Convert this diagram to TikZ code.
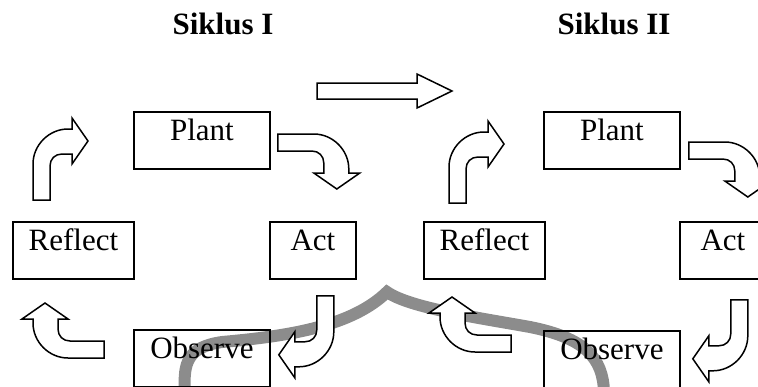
\documentclass[tikz,border=0pt]{standalone}
\usepackage{fontspec}
\setmainfont{Liberation Serif}
\usetikzlibrary{calc}

% bent block arrow, tail at the origin, heading +x and turning to +y
\newcommand{\bentarrow}[1]{%
  \begin{scope}[#1]
    \draw[arrowline] (0,0) -- (36,0) .. controls (55,0) and (71,16) .. (71,35)
      -- (71,39) -- (82,39) -- (59,55) -- (36,39) -- (46,39) -- (46,29)
      .. controls (46,22) and (41,17) .. (34,17) -- (0,17) -- cycle;
  \end{scope}}

\begin{document}
\begin{tikzpicture}[x=0.5pt, y=-0.5pt,
    box/.style={draw, line width=0.9pt, inner sep=0pt, text height=14.5pt,
      text depth=14pt, anchor=north west, font=\fontsize{15.5}{18}\selectfont},
    arrowline/.style={draw, fill=white, line width=0.75pt, line join=miter},
    title/.style={anchor=base, font=\fontsize{15.5}{18}\selectfont\bfseries},
    band/.style={black!45, line width=6pt}]
    \clip (0,0) rectangle (758,386);
    % grey band of the scanned page
    \draw[band] (185,392) .. controls (183,362) and (188,347) .. (222,342)
      .. controls (290,336) and (352,326) .. (387,292)
      .. controls (410,308) and (480,318) .. (530,327)
      .. controls (585,338) and (603,358) .. (604,392);
    % titles
    \node[title] (t1) at (223,34) {Siklus I};
    \node[title] (t2) at (614,34) {Siklus II};
    % cycle I
    \node[box, minimum width=68pt] (p1) at (133,111) {Plant};
    \node[box, minimum width=43pt] (a1) at (269,221) {Act};
    \node[box, minimum width=68pt] (o1) at (133,329) {Observe};
    \node[box, minimum width=60.5pt] (r1) at (12,221) {Reflect};
    % cycle II
    \node[box, minimum width=68pt] (p2) at (543,111) {Plant};
    \node[box, minimum width=43pt] (a2) at (679,221) {Act};
    \node[box, minimum width=68pt] (o2) at (543,330) {Observe};
    \node[box, minimum width=60.5pt] (r2) at (423,221) {Reflect};
    % arrows of cycle I
    \bentarrow{shift={($(p1.north east)+(7,23)$)}}
    \bentarrow{shift={($(a1.south east)+(-23,16)$)}, rotate=-90}
    \bentarrow{shift={($(o1.north west)+(-29,29)$)}, rotate=180}
    \bentarrow{shift={($(r1.north west)+(21,-21)$)}, rotate=90}
    % arrows of cycle II
    \bentarrow{shift={($(p2.north east)+(8,31)$)}}
    \bentarrow{shift={($(a2.south east)+(-19,20)$)}, rotate=-90}
    \bentarrow{shift={($(o2.north west)+(-32,22)$)}, rotate=180}
    \bentarrow{shift={($(r2.north west)+(26,-18)$)}, rotate=90}
    % from cycle I to cycle II
    \draw[arrowline] (317,83) -- (417,83) -- (417,74) -- (452,91) -- (417,108)
      -- (417,99) -- (317,99) -- cycle;
\end{tikzpicture}
\end{document}
